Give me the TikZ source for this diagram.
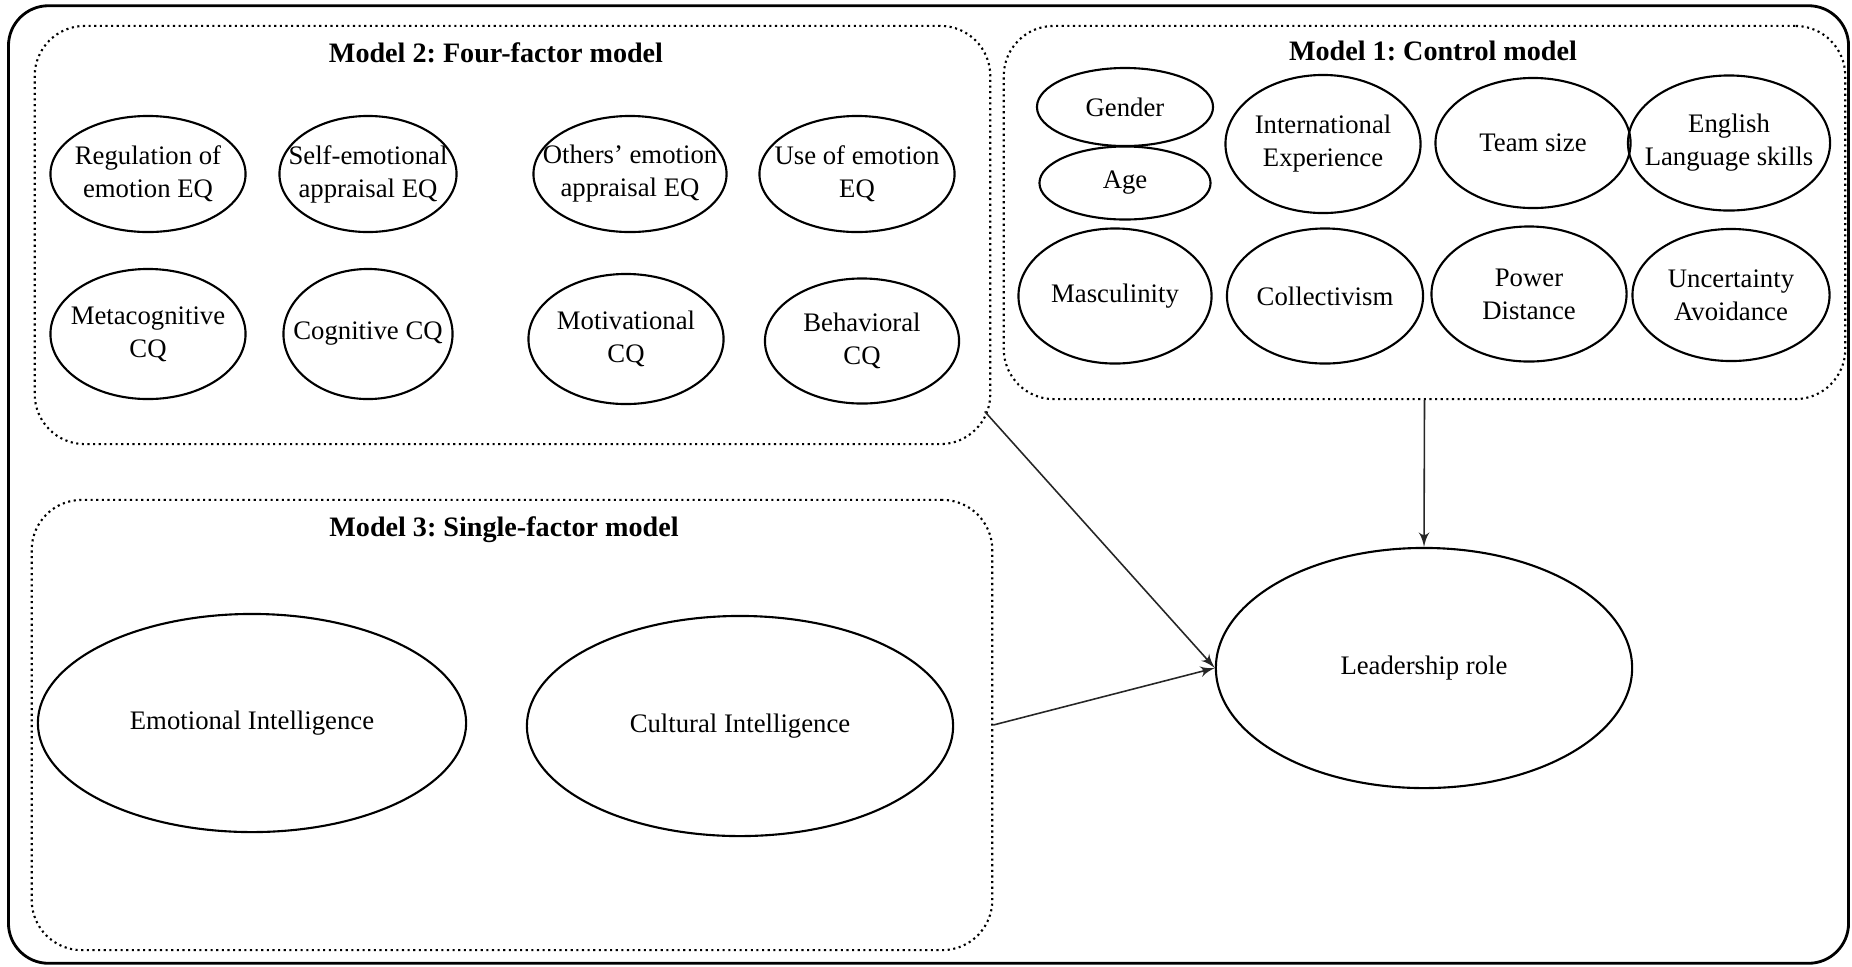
\documentclass[tikz,border=0pt]{standalone}
\usepackage{fontspec}
\setmainfont{Liberation Serif}
\usetikzlibrary{shapes,arrows}
\frenchspacing

\begin{document}
\begin{tikzpicture}[x = 0.01cm, y = -0.01cm, > = latex', font = \fontsize{7.6}{9.4}\selectfont]
    \tikzset{
      factor/.style = {draw, ellipse, line width = 0.6pt, align = center, inner sep = -1cm},
      model/.style = {draw, densely dotted, line width = 0.6pt, rounded corners = 0.5cm},
      title/.style = {font = \fontsize{8}{9.6}\selectfont\bfseries},
      link/.style = {->, line width = 0.45pt, black!85},
    }
    \useasboundingbox (0, 0) rectangle (1852, 966);
    \node [draw, line width = 0.8pt, rounded corners = 0.4cm, minimum width = 18.39cm, minimum height = 9.57cm] (frame) at (928.5, 484.5) {};

    % model boxes
    \node [model, minimum width = 9.55cm, minimum height = 4.18cm] (m2) at (512.5, 235) {};
    \node [model, minimum width = 8.41cm, minimum height = 3.73cm] (m1) at (1424.5, 212.5) {};
    \node [model, minimum width = 9.60cm, minimum height = 4.50cm] (m3) at (512, 725) {};
    \node [title] (m2title) at (496, 53) {Model 2: Four-factor model};
    \node [title] (m1title) at (1433, 51) {Model 1: Control model};
    \node [title] (m3title) at (504, 530) {Model 3: Single-factor model};

    % model 2
    \node [factor, minimum width = 1.95cm, minimum height = 1.16cm] (reg) at (148, 174) {Regulation of\\emotion EQ};
    \node [factor, minimum width = 1.77cm, minimum height = 1.16cm] (self) at (368, 174) {Self-emotional\\appraisal EQ};
    \node [factor, minimum width = 1.93cm, minimum height = 1.16cm] (others) at (630, 174) {Others’ emotion\\appraisal EQ};
    \node [factor, minimum width = 1.95cm, minimum height = 1.16cm] (use) at (857, 174) {Use of emotion\\EQ};
    \node [factor, minimum width = 1.95cm, minimum height = 1.30cm] (meta) at (148, 334) {Metacognitive\\CQ};
    \node [factor, minimum width = 1.69cm, minimum height = 1.30cm] (cog) at (368, 334) {Cognitive CQ};
    \node [factor, minimum width = 1.95cm, minimum height = 1.30cm] (motiv) at (626, 339) {Motivational\\CQ};
    \node [factor, minimum width = 1.94cm, minimum height = 1.25cm] (behav) at (862, 341) {Behavioral\\CQ};

    % model 1
    \node [factor, minimum width = 1.76cm, minimum height = 0.78cm] (gender) at (1125, 107) {Gender};
    \node [factor, minimum width = 1.71cm, minimum height = 0.73cm] (age) at (1125, 183) {Age};
    \node [factor, minimum width = 1.95cm, minimum height = 1.38cm] (intl) at (1323, 144) {International\\Experience};
    \node [factor, minimum width = 1.95cm, minimum height = 1.30cm] (team) at (1533, 143) {Team size};
    \node [factor, minimum width = 2.02cm, minimum height = 1.35cm] (english) at (1729, 143) {English\\Language skills};
    \node [factor, minimum width = 1.93cm, minimum height = 1.35cm] (masc) at (1115, 296) {Masculinity};
    \node [factor, minimum width = 1.96cm, minimum height = 1.35cm] (coll) at (1325, 296) {Collectivism};
    \node [factor, minimum width = 1.95cm, minimum height = 1.35cm] (power) at (1529, 294) {Power\\Distance};
    \node [factor, minimum width = 1.97cm, minimum height = 1.32cm] (uncert) at (1731, 295) {Uncertainty\\Avoidance};

    % model 3
    \node [factor, minimum width = 4.28cm, minimum height = 2.18cm] (ei) at (252, 723) {Emotional Intelligence};
    \node [factor, minimum width = 4.26cm, minimum height = 2.20cm] (ci) at (740, 726) {Cultural Intelligence};

    \node [factor, minimum width = 4.16cm, minimum height = 2.40cm] (lead) at (1424, 668) {Leadership role};

    \draw [link, shorten <= -0.1cm] (m2.-21) -- (lead.west);
    \draw [link] (m3.east) -- (lead.west);
    \draw [link] (m1.south) -- (lead.north);
\end{tikzpicture}
\end{document}
